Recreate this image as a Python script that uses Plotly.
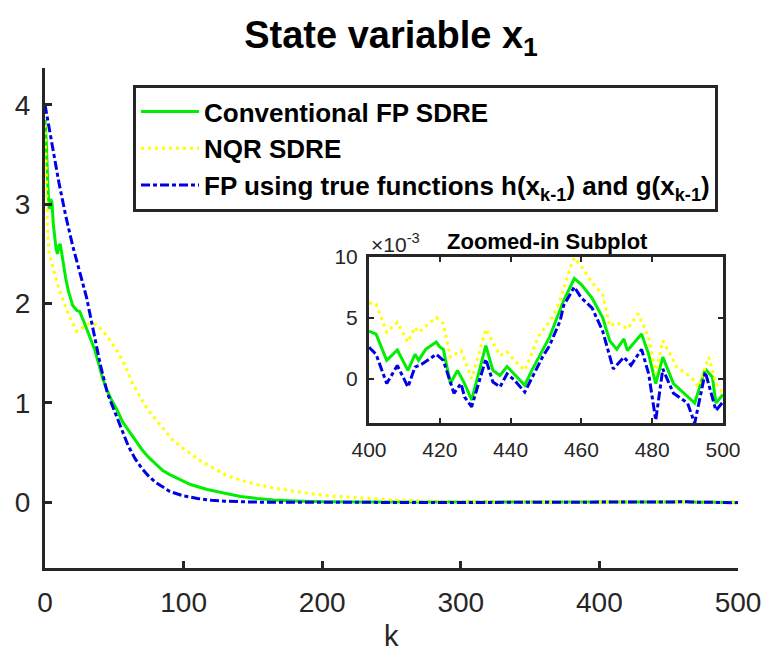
import numpy as np
import plotly.graph_objects as go

# ---------------- data ----------------
k_green = [0, 1, 2, 3, 4, 5, 6, 7, 8, 9, 10, 11, 12, 13, 15, 17, 20, 23, 25, 28, 32, 36, 40, 42, 45, 48,
           52, 56, 60, 65, 70, 75, 80, 85, 90, 97, 105, 117, 130, 141, 153, 165, 180, 200, 230, 270, 320, 370,
           400, 402, 405, 408, 411, 413, 414, 416, 419, 420, 421, 423, 425, 427, 429, 433, 435, 437, 439, 441,
           444, 446, 449, 451, 453, 455, 458, 460, 463, 466, 468, 470, 472, 473, 477, 479, 481, 483, 486, 489,
           492, 495, 497, 498, 500]
v_green = [3.85, 3.6, 3.2, 2.95, 3.05, 3.02, 2.8, 2.65, 2.55, 2.5, 2.58, 2.6, 2.5, 2.4, 2.25, 2.12, 1.98, 1.93,
           1.92, 1.82, 1.68, 1.53, 1.33, 1.23, 1.12, 1.03, 0.93, 0.81, 0.73, 0.63, 0.53, 0.45, 0.38, 0.32, 0.28,
           0.23, 0.18, 0.13, 0.09, 0.06, 0.04, 0.025, 0.015, 0.007, 0.004, 0.003, 0.002, 0.002,
           0.0039, 0.00365, 0.0015, 0.00235, 0.00068, 0.0020, 0.0015, 0.0024, 0.0030, 0.0026, 0.0024, -0.0004,
           0.00068, -0.0004, -0.00175, 0.0027, 0.00068, 0.00027, 0.0010, 0.00035, -0.00054, 0.00068, 0.0023,
           0.0034, 0.0049, 0.0064, 0.0082, 0.0077, 0.0066, 0.0050, 0.0031, 0.0024, 0.00325, 0.0023, 0.00366,
           0.0020, -0.0004, 0.00176, -0.0004, -0.0012, -0.0020, 0.0008, 0.00013, -0.0020, -0.0013]

k_yellow = [0, 1, 2, 3, 4, 6, 9, 13, 18, 23, 27, 32, 37, 42, 47, 53, 58, 63, 68, 72, 76, 84, 92, 100, 112,
            121, 131, 142, 153, 165, 177, 190, 206, 232, 250, 280, 320, 360, 390,
            400, 402, 405, 408, 411, 413, 414, 419, 421, 423, 426, 429, 433, 437, 439, 441, 444, 448, 452,
            454, 457, 458, 460, 463, 466, 468, 470, 473, 476, 479, 481, 483, 487, 491, 493, 496, 498, 500]
v_yellow = [3.8, 3.2, 2.7, 2.5, 2.45, 2.36, 2.2, 2.03, 1.86, 1.72, 1.76, 1.8, 1.79, 1.72, 1.63, 1.5, 1.37,
            1.2, 1.07, 0.98, 0.9, 0.76, 0.63, 0.54, 0.42, 0.35, 0.27, 0.22, 0.18, 0.145, 0.12, 0.09, 0.065,
            0.04, 0.025, 0.012, 0.006, 0.004, 0.005,
            0.0062, 0.0061, 0.0038, 0.0046, 0.0030, 0.0042, 0.0038, 0.0050, 0.0045, 0.00176, 0.0023, 0.0,
            0.00405, 0.0019, 0.0022, 0.0015, 0.00068, 0.0035, 0.0051, 0.0065, 0.0092, 0.0099, 0.0092,
            0.00785, 0.0069, 0.0043, 0.0046, 0.00407, 0.0053, 0.0034, 0.0004, 0.0031, 0.00094, 0.00013,
            -0.00068, 0.00176, -0.0004, -0.0012]

k_blue = [0, 5, 10, 15, 20, 25, 30, 35, 40, 45, 50, 55, 60, 65, 70, 75, 80, 90, 100, 110, 120, 130, 150,
          170, 200, 250, 300, 350, 390,
          400, 402, 405, 408, 411, 413, 415, 419, 421, 424, 426, 427, 429, 433, 435, 437, 439, 441, 444,
          449, 451, 454, 455, 458, 460, 463, 466, 469, 472, 474, 477, 479, 481, 483, 486, 490, 492, 495,
          498, 500]
v_blue = [4.0, 3.6, 3.22, 2.88, 2.58, 2.32, 2.06, 1.72, 1.38, 1.1, 0.92, 0.74, 0.57, 0.44, 0.34, 0.26, 0.2,
          0.11, 0.065, 0.04, 0.022, 0.012, 0.003, 0.0015, 0.0, 0.001, -0.001, 0.001, 0.001,
          0.00257, 0.0020, -0.0004, 0.00108, -0.00068, 0.00095, 0.0012, 0.0020, 0.0015, -0.0012, -0.0004,
          -0.0015, -0.0023, 0.0016, -0.00027, -0.00068, 0.0004, -0.0001, -0.0011, 0.00176, 0.0027,
          0.00474, 0.0060, 0.0075, 0.0066, 0.0058, 0.0039, 0.0008, 0.00176, 0.0011, 0.0024, 0.0004,
          -0.0034, 0.0008, -0.0012, -0.0020, -0.00366, 0.00054, -0.0026, -0.0019]

names = ["<b>Conventional FP SDRE</b>",
         "<b>NQR SDRE</b>",
         "<b>FP using true functions h(x<sub>k-1</sub>) and g(x<sub>k-1</sub>)</b>"]
x_ticks = [0, 100, 200, 300, 400, 500]
y_ticks = [0, 1, 2, 3, 4]
inset_x_ticks = [400, 420, 440, 460, 480, 500]
inset_y_vals = [0, 0.005, 0.01]
inset_y_text = ["0", "5", "10"]

# ---------------- styles ----------------
series = [
    (k_green, v_green, dict(color="#00ee00", width=3, dash="solid")),
    (k_yellow, v_yellow, dict(color="#ffff00", width=3, dash="3px,4px")),
    (k_blue, v_blue, dict(color="#0000e8", width=3, dash="9px,3px,4px,3px")),
]

AX = "#262626"
FONT = "Liberation Sans, Arial, Helvetica, sans-serif"
W, H = 768, 660

fig = go.Figure()
for (kk, vv, ln), nm in zip(series, names):
    fig.add_trace(go.Scatter(x=kk, y=vv, mode="lines", name=nm, line=ln,
                             xaxis="x", yaxis="y", showlegend=True))
for (kk, vv, ln), nm in zip(series, names):
    ka = np.array(kk, dtype=float)
    va = np.array(vv, dtype=float)
    m = ka >= 400
    fig.add_trace(go.Scatter(x=ka[m], y=va[m], mode="lines", name=nm, line=ln,
                             xaxis="x2", yaxis="y2", showlegend=False))

main_x_dom = [45 / W, 738 / W]
main_y_dom = [(H - 568) / H, (H - 68) / H]
ins_x_dom = [369 / W, 723 / W]
ins_y_dom = [(H - 423) / H, (H - 256.5) / H]

common = dict(showgrid=False, zeroline=False, showline=True, linecolor=AX, automargin=False,
              ticks="inside", tickcolor=AX)

fig.update_layout(
    template="none",
    width=W, height=H,
    margin=dict(l=0, r=0, t=0, b=0, pad=0, autoexpand=False),
    paper_bgcolor="white", plot_bgcolor="white",
    font=dict(family=FONT, color=AX),
    title=dict(text="<b>State variable x<sub>1</sub></b>",
               font=dict(family="Liberation Sans Narrow, Liberation Sans, Arial", size=38, color="black"),
               x=391 / W, xanchor="center", xref="container",
               y=1 - 21 / H, yanchor="top", yref="container", automargin=False),
    xaxis=dict(domain=main_x_dom, range=[0, 500], tickvals=x_ticks, linewidth=3, ticklen=7, tickwidth=3,
               tickfont=dict(size=28, color=AX), ticklabelstandoff=7, anchor="y", **common),
    yaxis=dict(domain=main_y_dom, range=[-0.66, 4.37], tickvals=y_ticks, linewidth=3, ticklen=7, tickwidth=3,
               tickfont=dict(size=28, color=AX), ticklabelstandoff=6, anchor="x", **common),
    xaxis2=dict(domain=ins_x_dom, range=[400, 500], tickvals=inset_x_ticks, mirror="ticks", linewidth=3,
                ticklen=5, tickwidth=2, tickfont=dict(size=21, color=AX), ticklabelstandoff=6,
                anchor="y2", **common),
    yaxis2=dict(domain=ins_y_dom, range=[-0.00363, 0.010], tickvals=inset_y_vals, ticktext=inset_y_text,
                mirror="ticks", linewidth=3, ticklen=5, tickwidth=2, tickfont=dict(size=21, color=AX),
                ticklabelstandoff=4, anchor="x2", **common),
    legend=dict(x=133 / W, y=1 - 85 / H, xanchor="left", yanchor="top",
                bgcolor="white", bordercolor=AX, borderwidth=3,
                font=dict(family=FONT, size=26, color="black"),
                itemwidth=58, tracegroupgap=0),
    showlegend=True,
)

fig.add_annotation(text="k", x=391 / W, y=1 - 636 / H, xref="paper", yref="paper",
                   showarrow=False, font=dict(family=FONT, size=29, color=AX),
                   xanchor="center", yanchor="middle")
fig.add_annotation(text="<b>Zoomed-in Subplot</b>", x=547 / W, y=1 - 241 / H, xref="paper", yref="paper",
                   showarrow=False, font=dict(family=FONT, size=22, color="black"),
                   xanchor="center", yanchor="middle")
fig.add_annotation(text="×10<sup>-3</sup>", x=369 / W, y=1 - 243 / H, xref="paper", yref="paper",
                   showarrow=False, font=dict(family=FONT, size=21, color=AX),
                   xanchor="left", yanchor="middle")

fig.write_html("out.html")
